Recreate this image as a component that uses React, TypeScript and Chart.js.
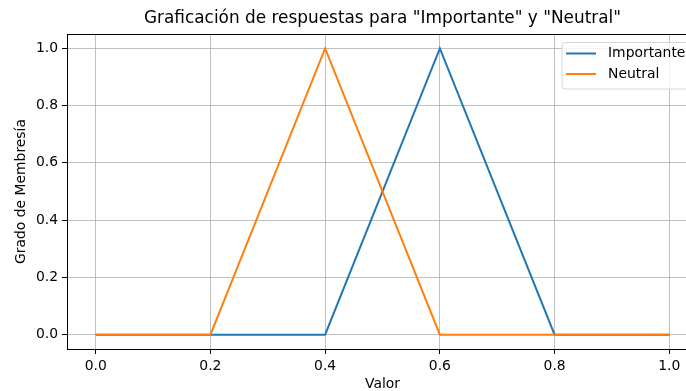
import React, { useEffect, useRef } from "react";
import { Chart, registerables } from "chart.js";

Chart.register(...registerables);

const xValues = [0, 0.2, 0.4, 0.6, 0.8, 1.0];
const importante = [0, 0, 0, 1, 0, 0];
const neutral = [0, 0, 1, 0, 0, 0];
const tickValues = [0, 0.2, 0.4, 0.6, 0.8, 1.0];
const titleText = 'Graficación de respuestas para "Importante" y "Neutral"';
const xLabel = "Valor";
const yLabel = "Grado de Membresía";
const seriesNames = ["Importante", "Neutral"];
const colors = ["#1f77b4", "#ff7f0e"];

const FONT = "DejaVu Sans";

const decor = {
  id: "decor",
  afterDraw(chart: any) {
    const { ctx, chartArea: a } = chart;
    ctx.save();
    // frame
    ctx.strokeStyle = "#000";
    ctx.lineWidth = 1;
    ctx.strokeRect(Math.round(a.left) + 0.5, Math.round(a.top) + 0.5, Math.round(a.right - a.left) - 1, Math.round(a.bottom - a.top));
    const cx = (a.left + a.right) / 2;
    // title
    ctx.fillStyle = "#000";
    ctx.font = `16.9px "${FONT}"`;
    ctx.textAlign = "center";
    ctx.textBaseline = "middle";
    ctx.fillText(titleText, cx, 19);
    // x label
    ctx.font = `13.9px "${FONT}"`;
    ctx.fillText(xLabel, cx, 384);
    // y label
    ctx.save();
    ctx.translate(21, (a.top + a.bottom) / 2);
    ctx.rotate(-Math.PI / 2);
    ctx.fillText(yLabel, 0, 0);
    ctx.restore();
    // legend
    const lx = 562, ly = 42.5, lw = 131, lh = 46.5, r = 3;
    ctx.beginPath();
    ctx.moveTo(lx + r, ly);
    ctx.lineTo(lx + lw - r, ly);
    ctx.quadraticCurveTo(lx + lw, ly, lx + lw, ly + r);
    ctx.lineTo(lx + lw, ly + lh - r);
    ctx.quadraticCurveTo(lx + lw, ly + lh, lx + lw - r, ly + lh);
    ctx.lineTo(lx + r, ly + lh);
    ctx.quadraticCurveTo(lx, ly + lh, lx, ly + lh - r);
    ctx.lineTo(lx, ly + r);
    ctx.quadraticCurveTo(lx, ly, lx + r, ly);
    ctx.closePath();
    ctx.fillStyle = "rgba(255,255,255,0.8)";
    ctx.fill();
    ctx.strokeStyle = "#d6d6d6";
    ctx.lineWidth = 1;
    ctx.stroke();
    const rows = [53.5, 74];
    seriesNames.forEach((name, i) => {
      ctx.strokeStyle = colors[i];
      ctx.lineWidth = 2;
      ctx.beginPath();
      ctx.moveTo(566, rows[i]);
      ctx.lineTo(596, rows[i]);
      ctx.stroke();
      ctx.fillStyle = "#000";
      ctx.textAlign = "left";
      ctx.textBaseline = "middle";
      ctx.font = `13.9px "${FONT}"`;
      ctx.fillText(name, 608, rows[i]);
    });
    ctx.restore();
  },
};

export default function App() {
  const ref = useRef<HTMLCanvasElement>(null);
  useEffect(() => {
    if (!ref.current) return;
    const chart = new Chart(ref.current, {
      type: "line",
      data: {
        datasets: [
          {
            label: seriesNames[0],
            data: xValues.map((x, i) => ({ x, y: importante[i] })),
            borderColor: colors[0],
            backgroundColor: colors[0],
            borderWidth: 2,
            pointRadius: 0,
            tension: 0,
            order: 1,
          },
          {
            label: seriesNames[1],
            data: xValues.map((x, i) => ({ x, y: neutral[i] })),
            borderColor: colors[1],
            backgroundColor: colors[1],
            borderWidth: 2,
            pointRadius: 0,
            tension: 0,
            order: 0,
          },
        ],
      },
      options: {
        responsive: false,
        animation: false,
        layout: { padding: { left: 0, top: 34, right: 12, bottom: 0 } },
        plugins: { legend: { display: false }, title: { display: false }, tooltip: { enabled: false } },
        scales: {
          x: {
            type: "linear",
            min: -0.05,
            max: 1.05,
            afterBuildTicks: (axis: any) => {
              axis.ticks = tickValues.map((v) => ({ value: v }));
            },
            afterFit: (axis: any) => {
              axis.height = 42;
            },
            grid: { color: "#b0b0b0", lineWidth: 0.8, drawTicks: true, tickLength: 5, tickColor: "#000", tickWidth: 1 },
            border: { display: true, color: "#000", width: 1 },
            ticks: {
              color: "#000",
              padding: 4,
              maxRotation: 0,
              font: { family: FONT, size: 13.9 },
              callback: (v: any) => Number(v).toFixed(1),
            },
          },
          y: {
            type: "linear",
            min: -0.05,
            max: 1.05,
            afterBuildTicks: (axis: any) => {
              axis.ticks = tickValues.map((v) => ({ value: v }));
            },
            afterFit: (axis: any) => {
              axis.width = 67;
            },
            grid: { color: "#b0b0b0", lineWidth: 0.8, drawTicks: true, tickLength: 5, tickColor: "#000", tickWidth: 1 },
            border: { display: true, color: "#000", width: 1 },
            ticks: {
              color: "#000",
              padding: 4,
              font: { family: FONT, size: 13.9 },
              callback: (v: any) => Number(v).toFixed(1),
            },
          },
        },
      },
      plugins: [decor],
    });
    return () => chart.destroy();
  }, []);
  return (
    <div style={{ position: "fixed", left: 0, top: 0, width: 686, height: 391, overflow: "hidden", background: "#fff" }}>
      <canvas ref={ref} width={710} height={391} style={{ display: "block", width: 710, height: 391 }} />
    </div>
  );
}
